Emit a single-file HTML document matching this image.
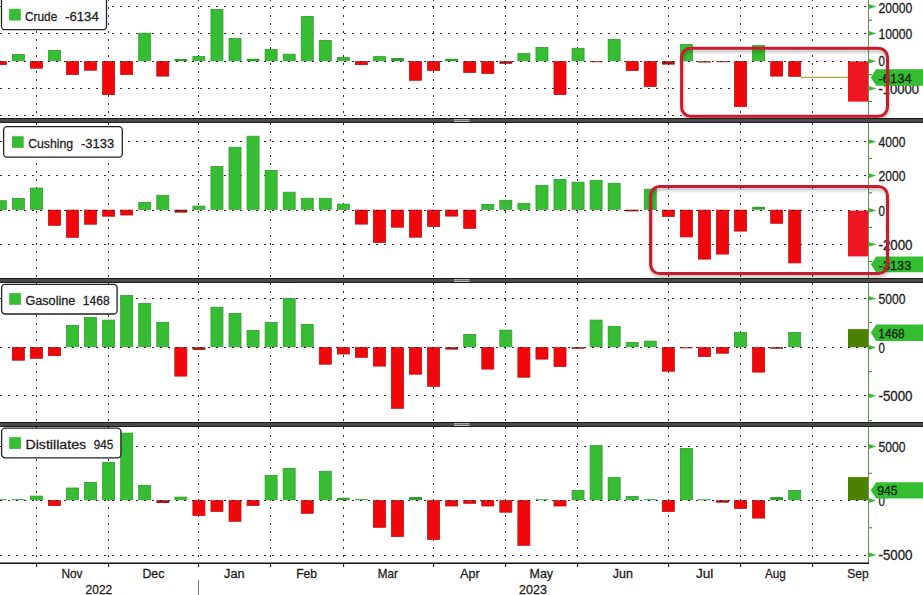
<!DOCTYPE html>
<html><head><meta charset="utf-8"><title>EIA inventories</title>
<style>
html,body{margin:0;padding:0;background:#fff;width:923px;height:595px;overflow:hidden}
svg text{font-family:"Liberation Sans",sans-serif;stroke-width:0.3px}
</style></head><body>
<svg width="923" height="595" viewBox="0 0 923 595" style="display:block">
<defs><filter id="sh" x="-10%" y="-20%" width="120%" height="150%"><feDropShadow dx="0.5" dy="2.5" stdDeviation="1.8" flood-color="#000" flood-opacity="0.28"/></filter></defs>
<rect x="0" y="0" width="923" height="595" fill="#fff"/>
<line x1="36.5" y1="-1" x2="36.5" y2="118" stroke="#2a2a2a" stroke-width="1" stroke-dasharray="2 6"/>
<line x1="108.5" y1="-1" x2="108.5" y2="118" stroke="#2a2a2a" stroke-width="1" stroke-dasharray="2 6"/>
<line x1="198.5" y1="-1" x2="198.5" y2="118" stroke="#2a2a2a" stroke-width="1" stroke-dasharray="2 6"/>
<line x1="270.5" y1="-1" x2="270.5" y2="118" stroke="#2a2a2a" stroke-width="1" stroke-dasharray="2 6"/>
<line x1="343.5" y1="-1" x2="343.5" y2="118" stroke="#2a2a2a" stroke-width="1" stroke-dasharray="2 6"/>
<line x1="433.5" y1="-1" x2="433.5" y2="118" stroke="#2a2a2a" stroke-width="1" stroke-dasharray="2 6"/>
<line x1="505.5" y1="-1" x2="505.5" y2="118" stroke="#2a2a2a" stroke-width="1" stroke-dasharray="2 6"/>
<line x1="577.5" y1="-1" x2="577.5" y2="118" stroke="#2a2a2a" stroke-width="1" stroke-dasharray="2 6"/>
<line x1="668.5" y1="-1" x2="668.5" y2="118" stroke="#2a2a2a" stroke-width="1" stroke-dasharray="2 6"/>
<line x1="740.5" y1="-1" x2="740.5" y2="118" stroke="#2a2a2a" stroke-width="1" stroke-dasharray="2 6"/>
<line x1="812.5" y1="-1" x2="812.5" y2="118" stroke="#2a2a2a" stroke-width="1" stroke-dasharray="2 6"/>
<line x1="0" y1="6.5" x2="867" y2="6.5" stroke="#2a2a2a" stroke-width="1" stroke-dasharray="2 6"/>
<line x1="0" y1="33.5" x2="867" y2="33.5" stroke="#2a2a2a" stroke-width="1" stroke-dasharray="2 6"/>
<line x1="0" y1="88.5" x2="867" y2="88.5" stroke="#2a2a2a" stroke-width="1" stroke-dasharray="2 6"/>
<line x1="0" y1="115.5" x2="867" y2="115.5" stroke="#2a2a2a" stroke-width="1" stroke-dasharray="2 6"/>
<rect x="-5.71" y="61.6" width="12" height="3" fill="#f0070b" stroke="#c20d0d" stroke-width="0.8"/>
<rect x="12.35" y="54.4" width="12" height="6.4" fill="#37bd33" stroke="#2f9e2c" stroke-width="0.8"/>
<rect x="30.4" y="61.6" width="12" height="6.6" fill="#f0070b" stroke="#c20d0d" stroke-width="0.8"/>
<rect x="48.46" y="50.4" width="12" height="10.4" fill="#37bd33" stroke="#2f9e2c" stroke-width="0.8"/>
<rect x="66.52" y="61.6" width="12" height="12.8" fill="#f0070b" stroke="#c20d0d" stroke-width="0.8"/>
<rect x="84.57" y="61.6" width="12" height="8.6" fill="#f0070b" stroke="#c20d0d" stroke-width="0.8"/>
<rect x="102.63" y="61.6" width="12" height="33" fill="#f0070b" stroke="#c20d0d" stroke-width="0.8"/>
<rect x="120.68" y="61.6" width="12" height="12.8" fill="#f0070b" stroke="#c20d0d" stroke-width="0.8"/>
<rect x="138.73" y="33.2" width="12" height="27.6" fill="#37bd33" stroke="#2f9e2c" stroke-width="0.8"/>
<rect x="156.79" y="61.6" width="12" height="14.5" fill="#f0070b" stroke="#c20d0d" stroke-width="0.8"/>
<rect x="174.44" y="59" width="12.8" height="2.2" fill="#2f9e2c"/>
<rect x="192.9" y="56.4" width="12" height="4.4" fill="#37bd33" stroke="#2f9e2c" stroke-width="0.8"/>
<rect x="210.95" y="9.4" width="12" height="51.4" fill="#37bd33" stroke="#2f9e2c" stroke-width="0.8"/>
<rect x="229.01" y="38.4" width="12" height="22.4" fill="#37bd33" stroke="#2f9e2c" stroke-width="0.8"/>
<rect x="246.66" y="58.8" width="12.8" height="2.4" fill="#2f9e2c"/>
<rect x="265.12" y="49.4" width="12" height="11.4" fill="#37bd33" stroke="#2f9e2c" stroke-width="0.8"/>
<rect x="283.17" y="54.2" width="12" height="6.6" fill="#37bd33" stroke="#2f9e2c" stroke-width="0.8"/>
<rect x="301.23" y="16.4" width="12" height="44.4" fill="#37bd33" stroke="#2f9e2c" stroke-width="0.8"/>
<rect x="319.28" y="40.4" width="12" height="20.4" fill="#37bd33" stroke="#2f9e2c" stroke-width="0.8"/>
<rect x="337.34" y="57.4" width="12" height="3.4" fill="#37bd33" stroke="#2f9e2c" stroke-width="0.8"/>
<rect x="355.39" y="61.6" width="12" height="3" fill="#f0070b" stroke="#c20d0d" stroke-width="0.8"/>
<rect x="373.45" y="56.6" width="12" height="4.2" fill="#37bd33" stroke="#2f9e2c" stroke-width="0.8"/>
<rect x="391.1" y="58" width="12.8" height="3.2" fill="#2f9e2c"/>
<rect x="409.56" y="61.6" width="12" height="18.7" fill="#f0070b" stroke="#c20d0d" stroke-width="0.8"/>
<rect x="427.61" y="61.6" width="12" height="8.8" fill="#f0070b" stroke="#c20d0d" stroke-width="0.8"/>
<rect x="445.27" y="58.8" width="12.8" height="2.4" fill="#2f9e2c"/>
<rect x="463.72" y="61.6" width="12" height="10.8" fill="#f0070b" stroke="#c20d0d" stroke-width="0.8"/>
<rect x="481.78" y="61.6" width="12" height="11.9" fill="#f0070b" stroke="#c20d0d" stroke-width="0.8"/>
<rect x="499.44" y="61.2" width="12.8" height="2.6" fill="#a81212"/>
<rect x="517.89" y="53.5" width="12" height="7.3" fill="#37bd33" stroke="#2f9e2c" stroke-width="0.8"/>
<rect x="535.95" y="47.4" width="12" height="13.4" fill="#37bd33" stroke="#2f9e2c" stroke-width="0.8"/>
<rect x="554" y="61.6" width="12" height="32.9" fill="#f0070b" stroke="#c20d0d" stroke-width="0.8"/>
<rect x="572.06" y="48.3" width="12" height="12.5" fill="#37bd33" stroke="#2f9e2c" stroke-width="0.8"/>
<rect x="589.71" y="61.2" width="12.8" height="1" fill="#a81212"/>
<rect x="608.16" y="39.5" width="12" height="21.3" fill="#37bd33" stroke="#2f9e2c" stroke-width="0.8"/>
<rect x="626.22" y="61.6" width="12" height="8.8" fill="#f0070b" stroke="#c20d0d" stroke-width="0.8"/>
<rect x="644.27" y="61.6" width="12" height="24.8" fill="#f0070b" stroke="#c20d0d" stroke-width="0.8"/>
<rect x="661.93" y="61.2" width="12.8" height="3.4" fill="#a81212"/>
<rect x="680.38" y="44.6" width="12" height="16.2" fill="#37bd33" stroke="#2f9e2c" stroke-width="0.8"/>
<rect x="698.04" y="61.2" width="12.8" height="1.3" fill="#a81212"/>
<rect x="716.1" y="61.2" width="12.8" height="1" fill="#a81212"/>
<rect x="734.55" y="61.6" width="12" height="44.9" fill="#f0070b" stroke="#c20d0d" stroke-width="0.8"/>
<rect x="752.61" y="45.6" width="12" height="15.2" fill="#37bd33" stroke="#2f9e2c" stroke-width="0.8"/>
<rect x="770.66" y="61.6" width="12" height="14.5" fill="#f0070b" stroke="#c20d0d" stroke-width="0.8"/>
<rect x="788.72" y="61.6" width="12" height="14.7" fill="#f0070b" stroke="#c20d0d" stroke-width="0.8"/>
<rect x="848" y="61.4" width="20.4" height="40.2" fill="#ee1622"/>
<line x1="0" y1="61.5" x2="867" y2="61.5" stroke="#2a2a2a" stroke-width="1" stroke-dasharray="2 6"/>
<line x1="36.5" y1="123" x2="36.5" y2="278" stroke="#2a2a2a" stroke-width="1" stroke-dasharray="2 6"/>
<line x1="108.5" y1="123" x2="108.5" y2="278" stroke="#2a2a2a" stroke-width="1" stroke-dasharray="2 6"/>
<line x1="198.5" y1="123" x2="198.5" y2="278" stroke="#2a2a2a" stroke-width="1" stroke-dasharray="2 6"/>
<line x1="270.5" y1="123" x2="270.5" y2="278" stroke="#2a2a2a" stroke-width="1" stroke-dasharray="2 6"/>
<line x1="343.5" y1="123" x2="343.5" y2="278" stroke="#2a2a2a" stroke-width="1" stroke-dasharray="2 6"/>
<line x1="433.5" y1="123" x2="433.5" y2="278" stroke="#2a2a2a" stroke-width="1" stroke-dasharray="2 6"/>
<line x1="505.5" y1="123" x2="505.5" y2="278" stroke="#2a2a2a" stroke-width="1" stroke-dasharray="2 6"/>
<line x1="577.5" y1="123" x2="577.5" y2="278" stroke="#2a2a2a" stroke-width="1" stroke-dasharray="2 6"/>
<line x1="668.5" y1="123" x2="668.5" y2="278" stroke="#2a2a2a" stroke-width="1" stroke-dasharray="2 6"/>
<line x1="740.5" y1="123" x2="740.5" y2="278" stroke="#2a2a2a" stroke-width="1" stroke-dasharray="2 6"/>
<line x1="812.5" y1="123" x2="812.5" y2="278" stroke="#2a2a2a" stroke-width="1" stroke-dasharray="2 6"/>
<line x1="0" y1="141.5" x2="867" y2="141.5" stroke="#2a2a2a" stroke-width="1" stroke-dasharray="2 6"/>
<line x1="0" y1="175.5" x2="867" y2="175.5" stroke="#2a2a2a" stroke-width="1" stroke-dasharray="2 6"/>
<line x1="0" y1="244.5" x2="867" y2="244.5" stroke="#2a2a2a" stroke-width="1" stroke-dasharray="2 6"/>
<rect x="-5.71" y="200.7" width="12" height="8.6" fill="#37bd33" stroke="#2f9e2c" stroke-width="0.8"/>
<rect x="12.35" y="198.4" width="12" height="10.9" fill="#37bd33" stroke="#2f9e2c" stroke-width="0.8"/>
<rect x="30.4" y="188.1" width="12" height="21.2" fill="#37bd33" stroke="#2f9e2c" stroke-width="0.8"/>
<rect x="48.46" y="210.1" width="12" height="15.2" fill="#f0070b" stroke="#c20d0d" stroke-width="0.8"/>
<rect x="66.52" y="210.1" width="12" height="27.2" fill="#f0070b" stroke="#c20d0d" stroke-width="0.8"/>
<rect x="84.57" y="210.1" width="12" height="14.1" fill="#f0070b" stroke="#c20d0d" stroke-width="0.8"/>
<rect x="102.63" y="210.1" width="12" height="6.1" fill="#f0070b" stroke="#c20d0d" stroke-width="0.8"/>
<rect x="120.68" y="210.1" width="12" height="4.9" fill="#f0070b" stroke="#c20d0d" stroke-width="0.8"/>
<rect x="138.73" y="202.4" width="12" height="6.9" fill="#37bd33" stroke="#2f9e2c" stroke-width="0.8"/>
<rect x="156.79" y="195.3" width="12" height="14" fill="#37bd33" stroke="#2f9e2c" stroke-width="0.8"/>
<rect x="174.44" y="209.7" width="12.8" height="2.9" fill="#a81212"/>
<rect x="192.9" y="206.1" width="12" height="3.2" fill="#37bd33" stroke="#2f9e2c" stroke-width="0.8"/>
<rect x="210.95" y="166.4" width="12" height="42.9" fill="#37bd33" stroke="#2f9e2c" stroke-width="0.8"/>
<rect x="229.01" y="147.3" width="12" height="62" fill="#37bd33" stroke="#2f9e2c" stroke-width="0.8"/>
<rect x="247.06" y="136.2" width="12" height="73.1" fill="#37bd33" stroke="#2f9e2c" stroke-width="0.8"/>
<rect x="265.12" y="170.3" width="12" height="39" fill="#37bd33" stroke="#2f9e2c" stroke-width="0.8"/>
<rect x="283.17" y="192.2" width="12" height="17.1" fill="#37bd33" stroke="#2f9e2c" stroke-width="0.8"/>
<rect x="301.23" y="198.3" width="12" height="11" fill="#37bd33" stroke="#2f9e2c" stroke-width="0.8"/>
<rect x="319.28" y="198.3" width="12" height="11" fill="#37bd33" stroke="#2f9e2c" stroke-width="0.8"/>
<rect x="337.34" y="204.1" width="12" height="5.2" fill="#37bd33" stroke="#2f9e2c" stroke-width="0.8"/>
<rect x="355.39" y="210.1" width="12" height="14" fill="#f0070b" stroke="#c20d0d" stroke-width="0.8"/>
<rect x="373.45" y="210.1" width="12" height="32.3" fill="#f0070b" stroke="#c20d0d" stroke-width="0.8"/>
<rect x="391.5" y="210.1" width="12" height="17.1" fill="#f0070b" stroke="#c20d0d" stroke-width="0.8"/>
<rect x="409.56" y="210.1" width="12" height="27.1" fill="#f0070b" stroke="#c20d0d" stroke-width="0.8"/>
<rect x="427.61" y="210.1" width="12" height="16.3" fill="#f0070b" stroke="#c20d0d" stroke-width="0.8"/>
<rect x="445.67" y="210.1" width="12" height="6" fill="#f0070b" stroke="#c20d0d" stroke-width="0.8"/>
<rect x="463.72" y="210.1" width="12" height="18.2" fill="#f0070b" stroke="#c20d0d" stroke-width="0.8"/>
<rect x="481.78" y="204.4" width="12" height="4.9" fill="#37bd33" stroke="#2f9e2c" stroke-width="0.8"/>
<rect x="499.83" y="200.3" width="12" height="9" fill="#37bd33" stroke="#2f9e2c" stroke-width="0.8"/>
<rect x="517.89" y="203.3" width="12" height="6" fill="#37bd33" stroke="#2f9e2c" stroke-width="0.8"/>
<rect x="535.95" y="185.3" width="12" height="24" fill="#37bd33" stroke="#2f9e2c" stroke-width="0.8"/>
<rect x="554" y="179.5" width="12" height="29.8" fill="#37bd33" stroke="#2f9e2c" stroke-width="0.8"/>
<rect x="572.06" y="182.2" width="12" height="27.1" fill="#37bd33" stroke="#2f9e2c" stroke-width="0.8"/>
<rect x="590.11" y="180.3" width="12" height="29" fill="#37bd33" stroke="#2f9e2c" stroke-width="0.8"/>
<rect x="608.16" y="183.3" width="12" height="26" fill="#37bd33" stroke="#2f9e2c" stroke-width="0.8"/>
<rect x="625.82" y="209.7" width="12.8" height="1.7" fill="#a81212"/>
<rect x="644.27" y="189.2" width="12" height="20.1" fill="#37bd33" stroke="#2f9e2c" stroke-width="0.8"/>
<rect x="662.33" y="210.1" width="12" height="6.3" fill="#f0070b" stroke="#c20d0d" stroke-width="0.8"/>
<rect x="680.38" y="210.1" width="12" height="26.8" fill="#f0070b" stroke="#c20d0d" stroke-width="0.8"/>
<rect x="698.44" y="210.1" width="12" height="49" fill="#f0070b" stroke="#c20d0d" stroke-width="0.8"/>
<rect x="716.5" y="210.1" width="12" height="44" fill="#f0070b" stroke="#c20d0d" stroke-width="0.8"/>
<rect x="734.55" y="210.1" width="12" height="21" fill="#f0070b" stroke="#c20d0d" stroke-width="0.8"/>
<rect x="752.21" y="206.8" width="12.8" height="2.9" fill="#2f9e2c"/>
<rect x="770.66" y="210.1" width="12" height="13.2" fill="#f0070b" stroke="#c20d0d" stroke-width="0.8"/>
<rect x="788.72" y="210.1" width="12" height="52.8" fill="#f0070b" stroke="#c20d0d" stroke-width="0.8"/>
<rect x="848" y="210.6" width="20.4" height="45.8" fill="#ee1622"/>
<line x1="0" y1="210.5" x2="867" y2="210.5" stroke="#2a2a2a" stroke-width="1" stroke-dasharray="2 6"/>
<line x1="36.5" y1="283" x2="36.5" y2="422" stroke="#2a2a2a" stroke-width="1" stroke-dasharray="2 6"/>
<line x1="108.5" y1="283" x2="108.5" y2="422" stroke="#2a2a2a" stroke-width="1" stroke-dasharray="2 6"/>
<line x1="198.5" y1="283" x2="198.5" y2="422" stroke="#2a2a2a" stroke-width="1" stroke-dasharray="2 6"/>
<line x1="270.5" y1="283" x2="270.5" y2="422" stroke="#2a2a2a" stroke-width="1" stroke-dasharray="2 6"/>
<line x1="343.5" y1="283" x2="343.5" y2="422" stroke="#2a2a2a" stroke-width="1" stroke-dasharray="2 6"/>
<line x1="433.5" y1="283" x2="433.5" y2="422" stroke="#2a2a2a" stroke-width="1" stroke-dasharray="2 6"/>
<line x1="505.5" y1="283" x2="505.5" y2="422" stroke="#2a2a2a" stroke-width="1" stroke-dasharray="2 6"/>
<line x1="577.5" y1="283" x2="577.5" y2="422" stroke="#2a2a2a" stroke-width="1" stroke-dasharray="2 6"/>
<line x1="668.5" y1="283" x2="668.5" y2="422" stroke="#2a2a2a" stroke-width="1" stroke-dasharray="2 6"/>
<line x1="740.5" y1="283" x2="740.5" y2="422" stroke="#2a2a2a" stroke-width="1" stroke-dasharray="2 6"/>
<line x1="812.5" y1="283" x2="812.5" y2="422" stroke="#2a2a2a" stroke-width="1" stroke-dasharray="2 6"/>
<line x1="0" y1="298.5" x2="867" y2="298.5" stroke="#2a2a2a" stroke-width="1" stroke-dasharray="2 6"/>
<line x1="0" y1="395.5" x2="867" y2="395.5" stroke="#2a2a2a" stroke-width="1" stroke-dasharray="2 6"/>
<rect x="12.35" y="347.6" width="12" height="12.6" fill="#f0070b" stroke="#c20d0d" stroke-width="0.8"/>
<rect x="30.4" y="347.6" width="12" height="10.7" fill="#f0070b" stroke="#c20d0d" stroke-width="0.8"/>
<rect x="48.46" y="347.6" width="12" height="8" fill="#f0070b" stroke="#c20d0d" stroke-width="0.8"/>
<rect x="66.52" y="325.3" width="12" height="21.5" fill="#37bd33" stroke="#2f9e2c" stroke-width="0.8"/>
<rect x="84.57" y="317.5" width="12" height="29.3" fill="#37bd33" stroke="#2f9e2c" stroke-width="0.8"/>
<rect x="102.63" y="320.1" width="12" height="26.7" fill="#37bd33" stroke="#2f9e2c" stroke-width="0.8"/>
<rect x="120.68" y="295.4" width="12" height="51.4" fill="#37bd33" stroke="#2f9e2c" stroke-width="0.8"/>
<rect x="138.73" y="303.5" width="12" height="43.3" fill="#37bd33" stroke="#2f9e2c" stroke-width="0.8"/>
<rect x="156.79" y="322.3" width="12" height="24.5" fill="#37bd33" stroke="#2f9e2c" stroke-width="0.8"/>
<rect x="174.84" y="347.6" width="12" height="28.5" fill="#f0070b" stroke="#c20d0d" stroke-width="0.8"/>
<rect x="192.5" y="347.2" width="12.8" height="2.7" fill="#a81212"/>
<rect x="210.95" y="307.2" width="12" height="39.6" fill="#37bd33" stroke="#2f9e2c" stroke-width="0.8"/>
<rect x="229.01" y="313.4" width="12" height="33.4" fill="#37bd33" stroke="#2f9e2c" stroke-width="0.8"/>
<rect x="247.06" y="330.4" width="12" height="16.4" fill="#37bd33" stroke="#2f9e2c" stroke-width="0.8"/>
<rect x="265.12" y="322.3" width="12" height="24.5" fill="#37bd33" stroke="#2f9e2c" stroke-width="0.8"/>
<rect x="283.17" y="298.4" width="12" height="48.4" fill="#37bd33" stroke="#2f9e2c" stroke-width="0.8"/>
<rect x="301.23" y="324.4" width="12" height="22.4" fill="#37bd33" stroke="#2f9e2c" stroke-width="0.8"/>
<rect x="319.28" y="347.6" width="12" height="16.6" fill="#f0070b" stroke="#c20d0d" stroke-width="0.8"/>
<rect x="337.34" y="347.6" width="12" height="6.4" fill="#f0070b" stroke="#c20d0d" stroke-width="0.8"/>
<rect x="355.39" y="347.6" width="12" height="9.7" fill="#f0070b" stroke="#c20d0d" stroke-width="0.8"/>
<rect x="373.45" y="347.6" width="12" height="18.5" fill="#f0070b" stroke="#c20d0d" stroke-width="0.8"/>
<rect x="391.5" y="347.6" width="12" height="60.7" fill="#f0070b" stroke="#c20d0d" stroke-width="0.8"/>
<rect x="409.56" y="347.6" width="12" height="26.6" fill="#f0070b" stroke="#c20d0d" stroke-width="0.8"/>
<rect x="427.61" y="347.6" width="12" height="38.7" fill="#f0070b" stroke="#c20d0d" stroke-width="0.8"/>
<rect x="445.27" y="347.2" width="12.8" height="2.4" fill="#a81212"/>
<rect x="463.72" y="334.4" width="12" height="12.4" fill="#37bd33" stroke="#2f9e2c" stroke-width="0.8"/>
<rect x="481.78" y="347.6" width="12" height="21.5" fill="#f0070b" stroke="#c20d0d" stroke-width="0.8"/>
<rect x="499.83" y="330.1" width="12" height="16.7" fill="#37bd33" stroke="#2f9e2c" stroke-width="0.8"/>
<rect x="517.89" y="347.6" width="12" height="29.6" fill="#f0070b" stroke="#c20d0d" stroke-width="0.8"/>
<rect x="535.95" y="347.6" width="12" height="11.5" fill="#f0070b" stroke="#c20d0d" stroke-width="0.8"/>
<rect x="554" y="347.6" width="12" height="18.8" fill="#f0070b" stroke="#c20d0d" stroke-width="0.8"/>
<rect x="571.66" y="347.2" width="12.8" height="1.6" fill="#a81212"/>
<rect x="590.11" y="320.1" width="12" height="26.7" fill="#37bd33" stroke="#2f9e2c" stroke-width="0.8"/>
<rect x="608.16" y="326.3" width="12" height="20.5" fill="#37bd33" stroke="#2f9e2c" stroke-width="0.8"/>
<rect x="626.22" y="342.4" width="12" height="4.4" fill="#37bd33" stroke="#2f9e2c" stroke-width="0.8"/>
<rect x="644.27" y="341.1" width="12" height="5.7" fill="#37bd33" stroke="#2f9e2c" stroke-width="0.8"/>
<rect x="662.33" y="347.6" width="12" height="23.6" fill="#f0070b" stroke="#c20d0d" stroke-width="0.8"/>
<rect x="679.99" y="347.2" width="12.8" height="1.1" fill="#a81212"/>
<rect x="698.44" y="347.6" width="12" height="8.9" fill="#f0070b" stroke="#c20d0d" stroke-width="0.8"/>
<rect x="716.5" y="347.6" width="12" height="5.6" fill="#f0070b" stroke="#c20d0d" stroke-width="0.8"/>
<rect x="734.55" y="332.5" width="12" height="14.3" fill="#37bd33" stroke="#2f9e2c" stroke-width="0.8"/>
<rect x="752.61" y="347.6" width="12" height="24.5" fill="#f0070b" stroke="#c20d0d" stroke-width="0.8"/>
<rect x="770.26" y="347.2" width="12.8" height="1.6" fill="#a81212"/>
<rect x="788.72" y="332.5" width="12" height="14.3" fill="#37bd33" stroke="#2f9e2c" stroke-width="0.8"/>
<rect x="848" y="329.1" width="20.4" height="18.2" fill="#4d8200"/>
<line x1="0" y1="347.5" x2="867" y2="347.5" stroke="#2a2a2a" stroke-width="1" stroke-dasharray="2 6"/>
<line x1="36.5" y1="427" x2="36.5" y2="563" stroke="#2a2a2a" stroke-width="1" stroke-dasharray="2 6"/>
<line x1="108.5" y1="427" x2="108.5" y2="563" stroke="#2a2a2a" stroke-width="1" stroke-dasharray="2 6"/>
<line x1="198.5" y1="427" x2="198.5" y2="563" stroke="#2a2a2a" stroke-width="1" stroke-dasharray="2 6"/>
<line x1="270.5" y1="427" x2="270.5" y2="563" stroke="#2a2a2a" stroke-width="1" stroke-dasharray="2 6"/>
<line x1="343.5" y1="427" x2="343.5" y2="563" stroke="#2a2a2a" stroke-width="1" stroke-dasharray="2 6"/>
<line x1="433.5" y1="427" x2="433.5" y2="563" stroke="#2a2a2a" stroke-width="1" stroke-dasharray="2 6"/>
<line x1="505.5" y1="427" x2="505.5" y2="563" stroke="#2a2a2a" stroke-width="1" stroke-dasharray="2 6"/>
<line x1="577.5" y1="427" x2="577.5" y2="563" stroke="#2a2a2a" stroke-width="1" stroke-dasharray="2 6"/>
<line x1="668.5" y1="427" x2="668.5" y2="563" stroke="#2a2a2a" stroke-width="1" stroke-dasharray="2 6"/>
<line x1="740.5" y1="427" x2="740.5" y2="563" stroke="#2a2a2a" stroke-width="1" stroke-dasharray="2 6"/>
<line x1="812.5" y1="427" x2="812.5" y2="563" stroke="#2a2a2a" stroke-width="1" stroke-dasharray="2 6"/>
<line x1="0" y1="446.5" x2="867" y2="446.5" stroke="#2a2a2a" stroke-width="1" stroke-dasharray="2 6"/>
<line x1="0" y1="555.5" x2="867" y2="555.5" stroke="#2a2a2a" stroke-width="1" stroke-dasharray="2 6"/>
<rect x="-6.11" y="499.2" width="12.8" height="1" fill="#2f9e2c"/>
<rect x="11.95" y="499.2" width="12.8" height="1" fill="#2f9e2c"/>
<rect x="30.4" y="496.1" width="12" height="3.7" fill="#37bd33" stroke="#2f9e2c" stroke-width="0.8"/>
<rect x="48.46" y="500.6" width="12" height="4.9" fill="#f0070b" stroke="#c20d0d" stroke-width="0.8"/>
<rect x="66.52" y="488" width="12" height="11.8" fill="#37bd33" stroke="#2f9e2c" stroke-width="0.8"/>
<rect x="84.57" y="482.4" width="12" height="17.4" fill="#37bd33" stroke="#2f9e2c" stroke-width="0.8"/>
<rect x="102.63" y="462.4" width="12" height="37.4" fill="#37bd33" stroke="#2f9e2c" stroke-width="0.8"/>
<rect x="120.68" y="433.1" width="12" height="66.7" fill="#37bd33" stroke="#2f9e2c" stroke-width="0.8"/>
<rect x="138.73" y="485.3" width="12" height="14.5" fill="#37bd33" stroke="#2f9e2c" stroke-width="0.8"/>
<rect x="156.39" y="500.2" width="12.8" height="2.8" fill="#a81212"/>
<rect x="174.84" y="497.1" width="12" height="2.7" fill="#37bd33" stroke="#2f9e2c" stroke-width="0.8"/>
<rect x="192.9" y="500.6" width="12" height="14.8" fill="#f0070b" stroke="#c20d0d" stroke-width="0.8"/>
<rect x="210.95" y="500.6" width="12" height="10.8" fill="#f0070b" stroke="#c20d0d" stroke-width="0.8"/>
<rect x="229.01" y="500.6" width="12" height="20.7" fill="#f0070b" stroke="#c20d0d" stroke-width="0.8"/>
<rect x="247.06" y="500.6" width="12" height="4.9" fill="#f0070b" stroke="#c20d0d" stroke-width="0.8"/>
<rect x="265.12" y="475.4" width="12" height="24.4" fill="#37bd33" stroke="#2f9e2c" stroke-width="0.8"/>
<rect x="283.17" y="468.4" width="12" height="31.4" fill="#37bd33" stroke="#2f9e2c" stroke-width="0.8"/>
<rect x="301.23" y="500.6" width="12" height="12.7" fill="#f0070b" stroke="#c20d0d" stroke-width="0.8"/>
<rect x="319.28" y="471.3" width="12" height="28.5" fill="#37bd33" stroke="#2f9e2c" stroke-width="0.8"/>
<rect x="336.94" y="497.8" width="12.8" height="2.4" fill="#2f9e2c"/>
<rect x="355" y="499.2" width="12.8" height="1" fill="#2f9e2c"/>
<rect x="373.45" y="500.6" width="12" height="26.7" fill="#f0070b" stroke="#c20d0d" stroke-width="0.8"/>
<rect x="391.5" y="500.6" width="12" height="35.8" fill="#f0070b" stroke="#c20d0d" stroke-width="0.8"/>
<rect x="409.16" y="497" width="12.8" height="3.2" fill="#2f9e2c"/>
<rect x="427.61" y="500.6" width="12" height="38.8" fill="#f0070b" stroke="#c20d0d" stroke-width="0.8"/>
<rect x="445.67" y="500.6" width="12" height="5.4" fill="#f0070b" stroke="#c20d0d" stroke-width="0.8"/>
<rect x="463.72" y="500.6" width="12" height="2.7" fill="#f0070b" stroke="#c20d0d" stroke-width="0.8"/>
<rect x="481.78" y="500.6" width="12" height="5.4" fill="#f0070b" stroke="#c20d0d" stroke-width="0.8"/>
<rect x="499.83" y="500.6" width="12" height="11.6" fill="#f0070b" stroke="#c20d0d" stroke-width="0.8"/>
<rect x="517.89" y="500.6" width="12" height="44.7" fill="#f0070b" stroke="#c20d0d" stroke-width="0.8"/>
<rect x="535.55" y="499.3" width="12.8" height="1" fill="#2f9e2c"/>
<rect x="554" y="500.6" width="12" height="5.4" fill="#f0070b" stroke="#c20d0d" stroke-width="0.8"/>
<rect x="572.06" y="490.4" width="12" height="9.4" fill="#37bd33" stroke="#2f9e2c" stroke-width="0.8"/>
<rect x="590.11" y="445.5" width="12" height="54.3" fill="#37bd33" stroke="#2f9e2c" stroke-width="0.8"/>
<rect x="608.16" y="477.5" width="12" height="22.3" fill="#37bd33" stroke="#2f9e2c" stroke-width="0.8"/>
<rect x="626.22" y="496.4" width="12" height="3.4" fill="#37bd33" stroke="#2f9e2c" stroke-width="0.8"/>
<rect x="643.88" y="499.2" width="12.8" height="1" fill="#2f9e2c"/>
<rect x="662.33" y="500.6" width="12" height="10.8" fill="#f0070b" stroke="#c20d0d" stroke-width="0.8"/>
<rect x="680.38" y="448.5" width="12" height="51.3" fill="#37bd33" stroke="#2f9e2c" stroke-width="0.8"/>
<rect x="698.04" y="499.3" width="12.8" height="1" fill="#2f9e2c"/>
<rect x="716.1" y="500.2" width="12.8" height="2.5" fill="#a81212"/>
<rect x="734.55" y="500.6" width="12" height="7.8" fill="#f0070b" stroke="#c20d0d" stroke-width="0.8"/>
<rect x="752.61" y="500.6" width="12" height="17.5" fill="#f0070b" stroke="#c20d0d" stroke-width="0.8"/>
<rect x="770.26" y="497" width="12.8" height="3.2" fill="#2f9e2c"/>
<rect x="788.72" y="490.4" width="12" height="9.4" fill="#37bd33" stroke="#2f9e2c" stroke-width="0.8"/>
<rect x="848" y="477.1" width="20.4" height="23.1" fill="#4d8200"/>
<line x1="0" y1="500.5" x2="867" y2="500.5" stroke="#2a2a2a" stroke-width="1" stroke-dasharray="2 6"/>
<line x1="801" y1="77.3" x2="848" y2="77.3" stroke="#a8a83c" stroke-width="1.2"/>
<rect x="1.5" y="-5" width="105" height="34.7" rx="3.5" fill="#fff" stroke="#222" stroke-width="1.3"/>
<rect x="9.1" y="8.8" width="11.7" height="11.7" fill="#37bd33"/>
<text x="25.1" y="20.5" font-size="13.7" textLength="32.1" lengthAdjust="spacingAndGlyphs" fill="#1e1e1e" stroke="#1e1e1e">Crude</text>
<text x="65" y="20.5" font-size="13.7" textLength="33.8" lengthAdjust="spacingAndGlyphs" fill="#1e1e1e" stroke="#1e1e1e">-6134</text>
<rect x="3.6" y="126.6" width="118.7" height="30.6" rx="3.5" fill="#fff" stroke="#222" stroke-width="1.3"/>
<rect x="12" y="136.2" width="11.7" height="11.7" fill="#37bd33"/>
<text x="28.2" y="147.5" font-size="13.7" textLength="45" lengthAdjust="spacingAndGlyphs" fill="#1e1e1e" stroke="#1e1e1e">Cushing</text>
<text x="81" y="147.5" font-size="13.7" textLength="33.1" lengthAdjust="spacingAndGlyphs" fill="#1e1e1e" stroke="#1e1e1e">-3133</text>
<rect x="1.6" y="284.3" width="115.5" height="29.7" rx="3.5" fill="#fff" stroke="#222" stroke-width="1.3"/>
<rect x="9.2" y="293.1" width="11.7" height="11.7" fill="#37bd33"/>
<text x="25.4" y="304.6" font-size="13.7" textLength="50" lengthAdjust="spacingAndGlyphs" fill="#1e1e1e" stroke="#1e1e1e">Gasoline</text>
<text x="82.8" y="304.6" font-size="13.7" textLength="26.8" lengthAdjust="spacingAndGlyphs" fill="#1e1e1e" stroke="#1e1e1e">1468</text>
<rect x="1.6" y="428.1" width="119.3" height="29.7" rx="3.5" fill="#fff" stroke="#222" stroke-width="1.3"/>
<rect x="9.2" y="437.2" width="11.7" height="11.7" fill="#37bd33"/>
<text x="25.4" y="448.8" font-size="13.7" textLength="60.8" lengthAdjust="spacingAndGlyphs" fill="#1e1e1e" stroke="#1e1e1e">Distillates</text>
<text x="93.7" y="448.8" font-size="13.7" textLength="19.7" lengthAdjust="spacingAndGlyphs" fill="#1e1e1e" stroke="#1e1e1e">945</text>
<path d="M868.6 4.1 L876.4 6.5 L868.6 8.9 Z" fill="#3db53a"/>
<text x="878.5" y="12.6" font-size="14" textLength="33.9" lengthAdjust="spacingAndGlyphs" fill="#1e1e1e" stroke="#1e1e1e">20000</text>
<path d="M868.6 31.1 L876.4 33.5 L868.6 35.9 Z" fill="#3db53a"/>
<text x="878.5" y="38.7" font-size="14" textLength="33.9" lengthAdjust="spacingAndGlyphs" fill="#1e1e1e" stroke="#1e1e1e">10000</text>
<path d="M868.6 58.8 L876.4 61.2 L868.6 63.6 Z" fill="#3db53a"/>
<text x="878.5" y="66.4" font-size="14" textLength="6.4" lengthAdjust="spacingAndGlyphs" fill="#1e1e1e" stroke="#1e1e1e">0</text>
<path d="M868.6 86 L876.4 88.4 L868.6 90.8 Z" fill="#3db53a"/>
<text x="878.5" y="93.6" font-size="14" textLength="40.4" lengthAdjust="spacingAndGlyphs" fill="#1e1e1e" stroke="#1e1e1e">-10000</text>
<line x1="868" y1="20.2" x2="872" y2="20.2" stroke="#3c7a30" stroke-width="1"/>
<line x1="868" y1="47.4" x2="872" y2="47.4" stroke="#3c7a30" stroke-width="1"/>
<line x1="868" y1="74.7" x2="872" y2="74.7" stroke="#3c7a30" stroke-width="1"/>
<line x1="868" y1="101.4" x2="872" y2="101.4" stroke="#3c7a30" stroke-width="1"/>
<path d="M868.6 139.2 L876.4 141.6 L868.6 144 Z" fill="#3db53a"/>
<text x="878.5" y="146.8" font-size="14" textLength="27.0" lengthAdjust="spacingAndGlyphs" fill="#1e1e1e" stroke="#1e1e1e">4000</text>
<path d="M868.6 173.2 L876.4 175.6 L868.6 178 Z" fill="#3db53a"/>
<text x="878.5" y="180.8" font-size="14" textLength="27.0" lengthAdjust="spacingAndGlyphs" fill="#1e1e1e" stroke="#1e1e1e">2000</text>
<path d="M868.6 208 L876.4 210.4 L868.6 212.8 Z" fill="#3db53a"/>
<text x="878.5" y="215.6" font-size="14" textLength="6.4" lengthAdjust="spacingAndGlyphs" fill="#1e1e1e" stroke="#1e1e1e">0</text>
<path d="M868.6 242 L876.4 244.4 L868.6 246.8 Z" fill="#3db53a"/>
<text x="878.5" y="249.6" font-size="14" textLength="34.0" lengthAdjust="spacingAndGlyphs" fill="#1e1e1e" stroke="#1e1e1e">-2000</text>
<line x1="868" y1="158.6" x2="872" y2="158.6" stroke="#3c7a30" stroke-width="1"/>
<line x1="868" y1="192.9" x2="872" y2="192.9" stroke="#3c7a30" stroke-width="1"/>
<line x1="868" y1="227.3" x2="872" y2="227.3" stroke="#3c7a30" stroke-width="1"/>
<line x1="868" y1="261.4" x2="872" y2="261.4" stroke="#3c7a30" stroke-width="1"/>
<path d="M868.6 296 L876.4 298.4 L868.6 300.8 Z" fill="#3db53a"/>
<text x="878.5" y="303.6" font-size="14" textLength="27.0" lengthAdjust="spacingAndGlyphs" fill="#1e1e1e" stroke="#1e1e1e">5000</text>
<path d="M868.6 345.1 L876.4 347.5 L868.6 349.9 Z" fill="#3db53a"/>
<text x="878.5" y="352.7" font-size="14" textLength="6.4" lengthAdjust="spacingAndGlyphs" fill="#1e1e1e" stroke="#1e1e1e">0</text>
<path d="M868.6 393.4 L876.4 395.8 L868.6 398.2 Z" fill="#3db53a"/>
<text x="878.5" y="401" font-size="14" textLength="34.0" lengthAdjust="spacingAndGlyphs" fill="#1e1e1e" stroke="#1e1e1e">-5000</text>
<line x1="868" y1="322.7" x2="872" y2="322.7" stroke="#3c7a30" stroke-width="1"/>
<line x1="868" y1="371.7" x2="872" y2="371.7" stroke="#3c7a30" stroke-width="1"/>
<line x1="868" y1="420.6" x2="872" y2="420.6" stroke="#3c7a30" stroke-width="1"/>
<path d="M868.6 444.1 L876.4 446.5 L868.6 448.9 Z" fill="#3db53a"/>
<text x="878.5" y="451.7" font-size="14" textLength="27.0" lengthAdjust="spacingAndGlyphs" fill="#1e1e1e" stroke="#1e1e1e">5000</text>
<path d="M868.6 498.2 L876.4 500.6 L868.6 503 Z" fill="#3db53a"/>
<text x="878.5" y="505.8" font-size="14" textLength="6.4" lengthAdjust="spacingAndGlyphs" fill="#1e1e1e" stroke="#1e1e1e">0</text>
<path d="M868.6 552.5 L876.4 554.9 L868.6 557.3 Z" fill="#3db53a"/>
<text x="878.5" y="560.1" font-size="14" textLength="34.0" lengthAdjust="spacingAndGlyphs" fill="#1e1e1e" stroke="#1e1e1e">-5000</text>
<line x1="868" y1="473.3" x2="872" y2="473.3" stroke="#3c7a30" stroke-width="1"/>
<line x1="868" y1="527.8" x2="872" y2="527.8" stroke="#3c7a30" stroke-width="1"/>
<path d="M870.8 77.5 L876.2 69.2 L923 69.2 L923 85.8 L876.2 85.8 Z" fill="#35bd31"/>
<text x="878.5" y="82.6" font-size="13.5" textLength="33.1" lengthAdjust="spacingAndGlyphs" fill="#0e1e0c" stroke="#0e1e0c">-6134</text>
<path d="M870.8 264.4 L876.2 256.6 L923 256.6 L923 272.2 L876.2 272.2 Z" fill="#35bd31"/>
<text x="878.8" y="269.5" font-size="13.5" textLength="32.4" lengthAdjust="spacingAndGlyphs" fill="#0e1e0c" stroke="#0e1e0c">-3133</text>
<path d="M870.8 332.65 L876.2 324.4 L923 324.4 L923 340.9 L876.2 340.9 Z" fill="#35bd31"/>
<text x="878.3" y="337.75" font-size="13.5" textLength="26.4" lengthAdjust="spacingAndGlyphs" fill="#0e1e0c" stroke="#0e1e0c">1468</text>
<path d="M870.8 490.3 L876.2 482.2 L923 482.2 L923 498.4 L876.2 498.4 Z" fill="#35bd31"/>
<text x="877.2" y="495.4" font-size="13.5" textLength="20.3" lengthAdjust="spacingAndGlyphs" fill="#0e1e0c" stroke="#0e1e0c">945</text>
<line x1="868.5" y1="0" x2="868.5" y2="563" stroke="#5b9a4e" stroke-width="1"/>
<rect x="681.6" y="48.2" width="205.9" height="68.1" rx="9" fill="none" stroke="#c81e2d" stroke-width="3" filter="url(#sh)"/>
<rect x="650.6" y="186.5" width="236.9" height="87.1" rx="9" fill="none" stroke="#c81e2d" stroke-width="3" filter="url(#sh)"/>
<rect x="0" y="118" width="923" height="5" fill="#1c1c1c"/>
<rect x="0" y="119" width="923" height="3" fill="#4a4a4a"/>
<rect x="454" y="119.3" width="15.5" height="0.9" fill="#d8d8d8"/>
<rect x="454" y="120.9" width="15.5" height="0.9" fill="#d8d8d8"/>
<rect x="0" y="278" width="923" height="5" fill="#1c1c1c"/>
<rect x="0" y="279" width="923" height="3" fill="#4a4a4a"/>
<rect x="454" y="279.3" width="15.5" height="0.9" fill="#d8d8d8"/>
<rect x="454" y="280.9" width="15.5" height="0.9" fill="#d8d8d8"/>
<rect x="0" y="422" width="923" height="5" fill="#1c1c1c"/>
<rect x="0" y="423" width="923" height="3" fill="#4a4a4a"/>
<rect x="454" y="423.3" width="15.5" height="0.9" fill="#d8d8d8"/>
<rect x="454" y="424.9" width="15.5" height="0.9" fill="#d8d8d8"/>
<rect x="0" y="562.5" width="869" height="1.5" fill="#111"/>
<rect x="36" y="563" width="1.1" height="4" fill="#111"/>
<rect x="108" y="563" width="1.1" height="4" fill="#111"/>
<rect x="198" y="563" width="1.1" height="4" fill="#111"/>
<rect x="270" y="563" width="1.1" height="4" fill="#111"/>
<rect x="343" y="563" width="1.1" height="4" fill="#111"/>
<rect x="433" y="563" width="1.1" height="4" fill="#111"/>
<rect x="505" y="563" width="1.1" height="4" fill="#111"/>
<rect x="577" y="563" width="1.1" height="4" fill="#111"/>
<rect x="668" y="563" width="1.1" height="4" fill="#111"/>
<rect x="740" y="563" width="1.1" height="4" fill="#111"/>
<rect x="812" y="563" width="1.1" height="4" fill="#111"/>
<text x="61.45" y="577.9" font-size="12.5" textLength="21.1" lengthAdjust="spacingAndGlyphs" fill="#1e1e1e" stroke="#1e1e1e">Nov</text>
<text x="142.45" y="577.9" font-size="12.5" textLength="21.9" lengthAdjust="spacingAndGlyphs" fill="#1e1e1e" stroke="#1e1e1e">Dec</text>
<text x="224.1" y="577.9" font-size="12.5" textLength="20.4" lengthAdjust="spacingAndGlyphs" fill="#1e1e1e" stroke="#1e1e1e">Jan</text>
<text x="296.15" y="577.9" font-size="12.5" textLength="20.7" lengthAdjust="spacingAndGlyphs" fill="#1e1e1e" stroke="#1e1e1e">Feb</text>
<text x="377.75" y="577.9" font-size="12.5" textLength="20.1" lengthAdjust="spacingAndGlyphs" fill="#1e1e1e" stroke="#1e1e1e">Mar</text>
<text x="460.2" y="577.9" font-size="12.5" textLength="19.4" lengthAdjust="spacingAndGlyphs" fill="#1e1e1e" stroke="#1e1e1e">Apr</text>
<text x="529.5" y="577.9" font-size="12.5" textLength="23.6" lengthAdjust="spacingAndGlyphs" fill="#1e1e1e" stroke="#1e1e1e">May</text>
<text x="612.75" y="577.9" font-size="12.5" textLength="20.1" lengthAdjust="spacingAndGlyphs" fill="#1e1e1e" stroke="#1e1e1e">Jun</text>
<text x="695.9" y="577.9" font-size="12.5" textLength="17.4" lengthAdjust="spacingAndGlyphs" fill="#1e1e1e" stroke="#1e1e1e">Jul</text>
<text x="764.9" y="577.9" font-size="12.5" textLength="20.8" lengthAdjust="spacingAndGlyphs" fill="#1e1e1e" stroke="#1e1e1e">Aug</text>
<text x="847.15" y="577.9" font-size="12.5" textLength="21.5" lengthAdjust="spacingAndGlyphs" fill="#1e1e1e" stroke="#1e1e1e">Sep</text>
<text x="85.6" y="593.6" font-size="12.5" textLength="26.6" lengthAdjust="spacingAndGlyphs" fill="#1e1e1e" stroke="#1e1e1e">2022</text>
<text x="519.1" y="593.6" font-size="12.5" textLength="27.8" lengthAdjust="spacingAndGlyphs" fill="#1e1e1e" stroke="#1e1e1e">2023</text>
<rect x="198" y="580" width="1" height="15" fill="#777"/>
</svg>
</body></html>
